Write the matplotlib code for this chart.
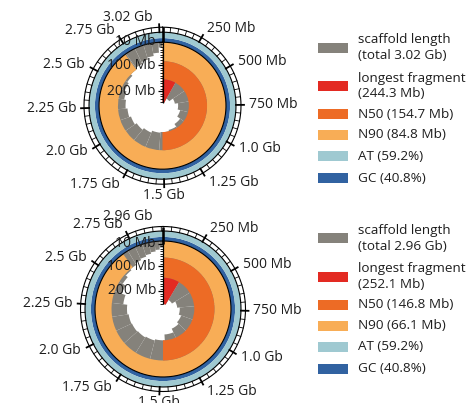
import numpy as np
import matplotlib
matplotlib.use("Agg")
import matplotlib.pyplot as plt
from matplotlib.patches import Rectangle

plt.rcParams['font.family'] = ['Open Sans', 'DejaVu Sans']

# top assembly: scaffold lengths in Mb, longest first
top_lengths = [244.3, 225, 208, 196, 186, 172, 160, 154.7,
               152, 144, 136, 128, 121, 114, 107, 100, 93, 84.8,
               78, 70, 62, 52, 32.2]
top_total = 3020.0
top_longest = 244.3
top_n50 = 154.7
top_n90 = 84.8
top_at = 59.2
top_gc = 40.8

# bottom assembly
bottom_lengths = [252.1, 230, 215, 205, 195, 186, 170, 146.8,
                  142, 138, 135, 133, 128, 112, 96, 82, 72, 66.1,
                  58, 52, 46, 40, 34, 26]
bottom_total = 2960.0
bottom_longest = 252.1
bottom_n50 = 146.8
bottom_n90 = 66.1
bottom_at = 59.2
bottom_gc = 40.8

axis_ticks_mb = [10, 100, 200]

GREY = '#85827b'
RED = '#e32a22'
DARK_ORANGE = '#ed6b25'
LIGHT_ORANGE = '#f8ad56'
LIGHT_BLUE = '#9fc9d1'
DARK_BLUE = '#3162a1'
TEXT = '#1e1e1e'

FIG_W, FIG_H = 468, 403
fig = plt.figure(figsize=(FIG_W / 100, FIG_H / 100), dpi=100)


def fmt_len(v):
    if v < 1000:
        return f"{v:g} Mb"
    s = f"{v / 1000:.2f}".rstrip('0')
    if s.endswith('.'):
        s += '0'
    return s + " Gb"


def snail(cx, cy, R, ring_w, tick_w, r0, lref, lengths, total, longest, n50, n90, gc):
    rect = [(cx - 100) / FIG_W, (FIG_H - cy - 100) / FIG_H, 200 / FIG_W, 200 / FIG_H]
    ax = fig.add_axes(rect, projection='polar')
    ax.set_theta_zero_location('N')
    ax.set_theta_direction(-1)
    ax.set_rlim(0, 100)
    ax.set_axis_off()

    def rad(L):
        return r0 * (1 - np.asarray(L, dtype=float) / lref)

    lengths = np.asarray(lengths)
    starts = np.concatenate([[0], np.cumsum(lengths)[:-1]])
    ax.bar(2 * np.pi * starts / total, R - rad(lengths), width=2 * np.pi * lengths / total,
           bottom=rad(lengths), align='edge', color=GREY, linewidth=0, zorder=1)
    ax.bar(0, R - rad(n90), width=2 * np.pi * 0.9, bottom=rad(n90), align='edge',
           color=LIGHT_ORANGE, linewidth=0, zorder=2)
    ax.bar(0, rad(n90) - rad(n50), width=np.pi, bottom=rad(n50), align='edge',
           color=DARK_ORANGE, linewidth=0, zorder=3)
    ax.bar(0, rad(n50) - rad(longest), width=2 * np.pi * longest / total, bottom=rad(longest),
           align='edge', color=RED, linewidth=0, zorder=4)

    # base composition ring
    ax.bar(0, ring_w * gc / 100, width=2 * np.pi, bottom=R, align='edge',
           color=DARK_BLUE, linewidth=0, zorder=2)
    ax.bar(0, ring_w * (1 - gc / 100), width=2 * np.pi, bottom=R + ring_w * gc / 100,
           align='edge', color=LIGHT_BLUE, linewidth=0, zorder=2)

    tc = np.linspace(0, 2 * np.pi, 721)
    outer = R + ring_w + tick_w
    for r in (R, R + ring_w, outer):
        ax.plot(tc, np.full_like(tc, r), color='k', lw=0.8, zorder=5)

    for v in np.arange(50, total, 50):
        t = 2 * np.pi * v / total
        if v % 250 == 0:
            ax.plot([t, t], [R + ring_w, outer + 3], color='k', lw=1.3, zorder=5)
        else:
            ax.plot([t, t], [R + ring_w, outer], color='k', lw=0.6, zorder=5)

    for v in np.arange(250, total - 100, 250):
        t = 2 * np.pi * v / total
        s, c = np.sin(t), np.cos(t)
        r_lab = outer + 7.5 + 4 * abs(c)
        ha = 'left' if s > 0.1 else ('right' if s < -0.1 else 'center')
        ax.text(t, r_lab, fmt_len(v), ha=ha, va='center', fontsize=10, color=TEXT)

    # cartesian overlay for the radial scale
    ax2 = fig.add_axes(rect)
    ax2.set_xlim(-100, 100)
    ax2.set_ylim(-100, 100)
    ax2.set_axis_off()
    ax2.vlines(0, rad(longest), outer, color='k', lw=0.9)
    ax2.vlines(0, rad(10), outer, color='k', lw=1.8)
    minor = np.arange(10, longest, 10)
    ax2.hlines(rad(minor), -3, 0, color='k', lw=0.6)
    ax2.hlines(rad(axis_ticks_mb), -5, 0, color='k', lw=0.9)
    for v in axis_ticks_mb:
        ax2.text(-7, rad(v), fmt_len(v), ha='right', va='center', fontsize=10, color=TEXT)
    ax2.text(-10, outer + 9.5, fmt_len(total), ha='right', va='center', fontsize=10, color=TEXT)


snail(162.5, 105.7, 63.5, 10, 5, 66.6, 256, top_lengths, top_total,
      top_longest, top_n50, top_n90, top_gc)
snail(163, 309, 68.0, 10, 4.5, 68.0, 272, bottom_lengths, bottom_total,
      bottom_longest, bottom_n50, bottom_n90, bottom_gc)

leg = fig.add_axes([0, 0, 1, 1])
leg.set_xlim(0, FIG_W)
leg.set_ylim(FIG_H, 0)
leg.set_axis_off()

legend_colours = [GREY, RED, DARK_ORANGE, LIGHT_ORANGE, LIGHT_BLUE, DARK_BLUE]
legend_rows = [47.7, 86, 114, 135, 156, 178]
legend_shift = 190.7

for shift, total, longest, n50, n90, at, gc in [
        (0, top_total, top_longest, top_n50, top_n90, top_at, top_gc),
        (legend_shift, bottom_total, bottom_longest, bottom_n50, bottom_n90, bottom_at, bottom_gc)]:
    labels = [f"scaffold length\n(total {fmt_len(total)})",
              f"longest fragment\n({longest:.1f} Mb)",
              f"N50 ({n50:.1f} Mb)",
              f"N90 ({n90:.1f} Mb)",
              f"AT ({at:.1f}%)",
              f"GC ({gc:.1f}%)"]
    for y, label, colour in zip(legend_rows, labels, legend_colours):
        leg.add_patch(Rectangle((318.3, y + shift - 5), 30, 10, color=colour, lw=0))
        leg.text(358.3, y + shift, label, ha='left', va='center', fontsize=9.7,
                 linespacing=1.25, color=TEXT)

fig.savefig("out.png", dpi=100)
